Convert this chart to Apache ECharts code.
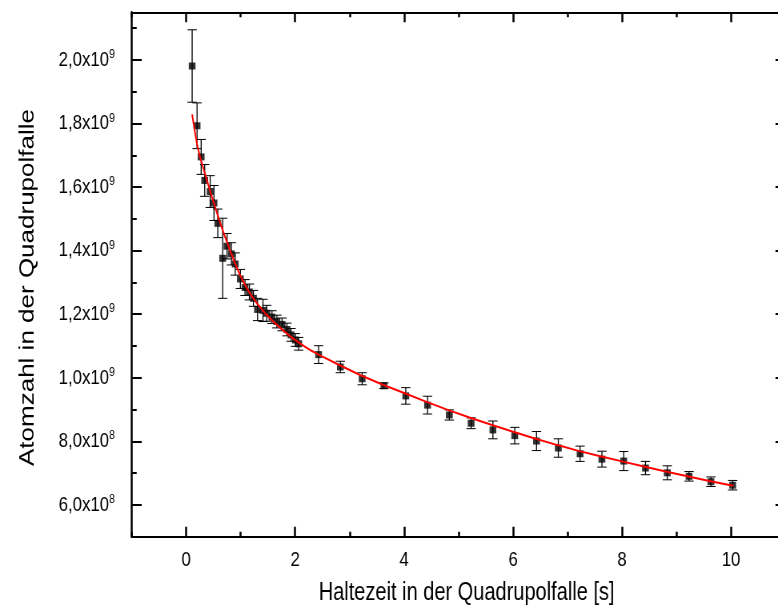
<!DOCTYPE html>
<html>
<head>
<meta charset="utf-8">
<script src="https://cdn.jsdelivr.net/npm/echarts@6/dist/echarts.min.js"></script>
<style>
  html, body { margin: 0; padding: 0; background: #fff; overflow: hidden; }
  /* The figure is laid out on a wider canvas and squeezed horizontally,
     which gives the tall, narrow lettering of the printed plot. */
  #chart { width: 972px; height: 612px; transform: scaleX(0.8004); transform-origin: 0 0; }
</style>
</head>
<body>
<div id="chart"></div>
<script>
// Holding time in the quadrupole trap [s]
const holdTimes = [
  0.11, 0.20, 0.275, 0.34, 0.44, 0.51, 0.58, 0.67, 0.75, 0.83,
  0.90, 0.995, 1.08, 1.16, 1.235, 1.31, 1.41, 1.48, 1.575, 1.665,
  1.76, 1.85, 1.925, 2.005, 2.065,
  2.43, 2.83, 3.23, 3.63, 4.03, 4.43, 4.83, 5.23, 5.63, 6.03,
  6.43, 6.83, 7.23, 7.63, 8.03, 8.43, 8.83, 9.23, 9.63, 10.03
];
// Measured atom number
const atomCounts = [
  19.81e8, 17.93e8, 16.95e8, 16.21e8, 15.86e8, 15.50e8, 14.86e8, 13.76e8, 14.14e8, 13.90e8,
  13.58e8, 13.11e8, 12.84e8, 12.70e8, 12.50e8, 12.15e8, 12.12e8, 12.03e8, 11.91e8, 11.77e8,
  11.68e8, 11.52e8, 11.35e8, 11.19e8, 11.07e8,
  10.73e8, 10.34e8, 9.97e8, 9.75e8, 9.43e8, 9.14e8, 8.83e8, 8.57e8, 8.36e8, 8.18e8,
  8.01e8, 7.79e8, 7.61e8, 7.44e8, 7.38e8, 7.16e8, 7.01e8, 6.90e8, 6.73e8, 6.62e8
];
// Standard error of each measurement
const atomErrors = [
  1.14e8, 0.72e8, 0.55e8, 0.50e8, 0.50e8, 0.55e8, 0.45e8, 1.26e8, 0.40e8, 0.35e8,
  0.35e8, 0.30e8, 0.25e8, 0.25e8, 0.25e8, 0.35e8, 0.35e8, 0.25e8, 0.20e8, 0.20e8,
  0.20e8, 0.20e8, 0.20e8, 0.20e8, 0.20e8,
  0.28e8, 0.18e8, 0.19e8, 0.09e8, 0.26e8, 0.28e8, 0.16e8, 0.17e8, 0.28e8, 0.26e8,
  0.30e8, 0.29e8, 0.24e8, 0.25e8, 0.30e8, 0.21e8, 0.22e8, 0.15e8, 0.15e8, 0.15e8
];
// Fitted decay curve
const fitTimes = [
  0.11, 0.15, 0.20, 0.25, 0.30, 0.35, 0.40, 0.45, 0.50, 0.60,
  0.70, 0.80, 0.90, 1.00, 1.10, 1.20, 1.30, 1.40, 1.50, 1.60,
  1.70, 1.80, 1.90, 2.00, 2.10, 2.20, 2.30, 2.43, 2.80, 3.20,
  3.60, 4.00, 4.40, 4.80, 5.20, 5.60, 6.00, 6.40, 6.80, 7.20,
  7.60, 8.00, 8.40, 8.80, 9.20, 9.60, 10.04
];
const fitCounts = [
  18.29e8, 17.85e8, 17.35e8, 16.98e8, 16.68e8, 16.39e8, 16.10e8, 15.81e8, 15.54e8, 15.00e8,
  14.50e8, 14.03e8, 13.59e8, 13.19e8, 12.86e8, 12.58e8, 12.34e8, 12.13e8, 11.94e8, 11.77e8,
  11.61e8, 11.46e8, 11.32e8, 11.19e8, 11.07e8, 10.96e8, 10.85e8, 10.73e8, 10.41e8, 10.08e8,
  9.79e8, 9.52e8, 9.25e8, 8.99e8, 8.75e8, 8.52e8, 8.30e8, 8.09e8, 7.89e8, 7.70e8,
  7.53e8, 7.37e8, 7.21e8, 7.05e8, 6.90e8, 6.75e8, 6.60e8
];
// Axis ticks
const xMajorTicks = [0, 2, 4, 6, 8, 10];
const xMinorTicks = [-1, 1, 3, 5, 7, 9, 11];
const yMajorTicks = [6e8, 8e8, 10e8, 12e8, 14e8, 16e8, 18e8, 20e8];
const yMinorTicks = [5e8, 7e8, 9e8, 11e8, 13e8, 15e8, 17e8, 19e8, 21e8];

const X_MIN = -1, X_MAX = 11;
const Y_MIN = 5e8, Y_MAX = 21.5e8;

const SANS = '"Liberation Sans", Arial, sans-serif';

function sciLabel(v) {
  const e = Math.floor(Math.log10(v) + 1e-9);
  const m = (v / Math.pow(10, e)).toFixed(1).replace('.', ',');
  return '{m|' + m + 'x10}{e|' + e + '}';
}

// horizontal strokes keep their width, vertical ones are widened to survive the squeeze
const hStroke = { color: '#000', width: 2 };
const vStroke = { color: '#000', width: 2.5 };

function xAxisDef(position, ticks, len, major) {
  return {
    type: 'value', gridIndex: 0, position: position,
    min: X_MIN, max: X_MAX, interval: 1,
    axisLine: { show: major, onZero: false, lineStyle: hStroke },
    axisTick: { show: true, inside: true, length: len, customValues: ticks, lineStyle: vStroke },
    axisLabel: { show: false },
    splitLine: { show: false }
  };
}
function yAxisDef(position, ticks, len, major) {
  return {
    type: 'value', gridIndex: 0, position: position,
    min: Y_MIN, max: Y_MAX, interval: 1e8,
    axisLine: { show: major, onZero: false, lineStyle: vStroke },
    axisTick: { show: true, inside: true, length: len / 0.8004, customValues: ticks, lineStyle: hStroke },
    axisLabel: { show: false },
    splitLine: { show: false }
  };
}

const xMain = xAxisDef('bottom', xMajorTicks, 10, true);
xMain.axisLabel = {
  show: true, customValues: xMajorTicks, margin: 13,
  color: '#000', fontSize: 21, fontFamily: SANS
};
xMain.name = 'Haltezeit in der Quadrupolfalle [s]';
xMain.nameLocation = 'middle';
xMain.nameGap = 44;
xMain.nameMoveOverlap = false;
xMain.nameTextStyle = { color: '#000', fontSize: 25, fontFamily: SANS, padding: [0, 0, 0, 20] };

const yMain = yAxisDef('left', yMajorTicks, 10, true);
yMain.axisLabel = {
  show: true, customValues: yMajorTicks, margin: 21,
  formatter: sciLabel,
  rich: {
    m: { color: '#000', fontSize: 21, fontFamily: SANS, lineHeight: 24 },
    e: { color: '#000', fontSize: 13, fontFamily: SANS, lineHeight: 13, verticalAlign: 'top' }
  }
};
yMain.name = 'Atomzahl in der Quadrupolfalle';
yMain.nameLocation = 'middle';
yMain.nameRotate = 90;
yMain.nameGap = 117;
yMain.nameMoveOverlap = false;
yMain.nameTextStyle = { color: '#000', fontSize: 26, fontFamily: SANS, padding: [0, 26, 0, 0] };

const points = holdTimes.map((t, i) => [t, atomCounts[i], atomErrors[i]]);
const fit = fitTimes.map((t, i) => [t, fitCounts[i]]);

const option = {
  animation: false,
  backgroundColor: '#fff',
  grid: { left: 164.5, right: -9.4, top: 12.3, bottom: 75.3, outerBoundsMode: 'none', containLabel: false },
  xAxis: [
    xMain,
    xAxisDef('bottom', xMinorTicks, 5, false),
    xAxisDef('top', xMajorTicks, 10, true),
    xAxisDef('top', xMinorTicks, 5, false)
  ],
  yAxis: [
    yMain,
    yAxisDef('left', yMinorTicks, 5, false),
    yAxisDef('right', yMajorTicks, 10, true),
    yAxisDef('right', yMinorTicks, 5, false)
  ],
  series: [
    {
      type: 'custom',
      name: 'Fehler',
      xAxisIndex: 0, yAxisIndex: 0,
      z: 2,
      data: points,
      renderItem: function (params, api) {
        const x = api.value(0), y = api.value(1), e = api.value(2);
        const top = api.coord([x, y + e]);
        const bot = api.coord([x, y - e]);
        const hw = 5.8;
        return {
          type: 'group',
          children: [
            { type: 'line', shape: { x1: top[0], y1: top[1], x2: bot[0], y2: bot[1] }, style: { stroke: '#000', lineWidth: 1.3 } },
            { type: 'line', shape: { x1: top[0] - hw, y1: top[1], x2: top[0] + hw, y2: top[1] }, style: { stroke: '#000', lineWidth: 1 } },
            { type: 'line', shape: { x1: bot[0] - hw, y1: bot[1], x2: bot[0] + hw, y2: bot[1] }, style: { stroke: '#000', lineWidth: 1 } }
          ]
        };
      }
    },
    {
      type: 'scatter',
      name: 'Atomzahl',
      xAxisIndex: 0, yAxisIndex: 0,
      z: 3,
      symbol: 'rect',
      symbolSize: [8.5, 7],
      itemStyle: { color: '#000' },
      data: points.map(p => [p[0], p[1]])
    },
    {
      type: 'line',
      name: 'Fit',
      xAxisIndex: 0, yAxisIndex: 0,
      z: 4,
      data: fit,
      showSymbol: false,
      symbol: 'none',
      smooth: false,
      lineStyle: { color: '#ff0000', width: 2 }
    }
  ]
};

const chart = echarts.init(document.getElementById('chart'), null, { renderer: 'canvas' });
chart.setOption(option);
</script>
</body>
</html>
